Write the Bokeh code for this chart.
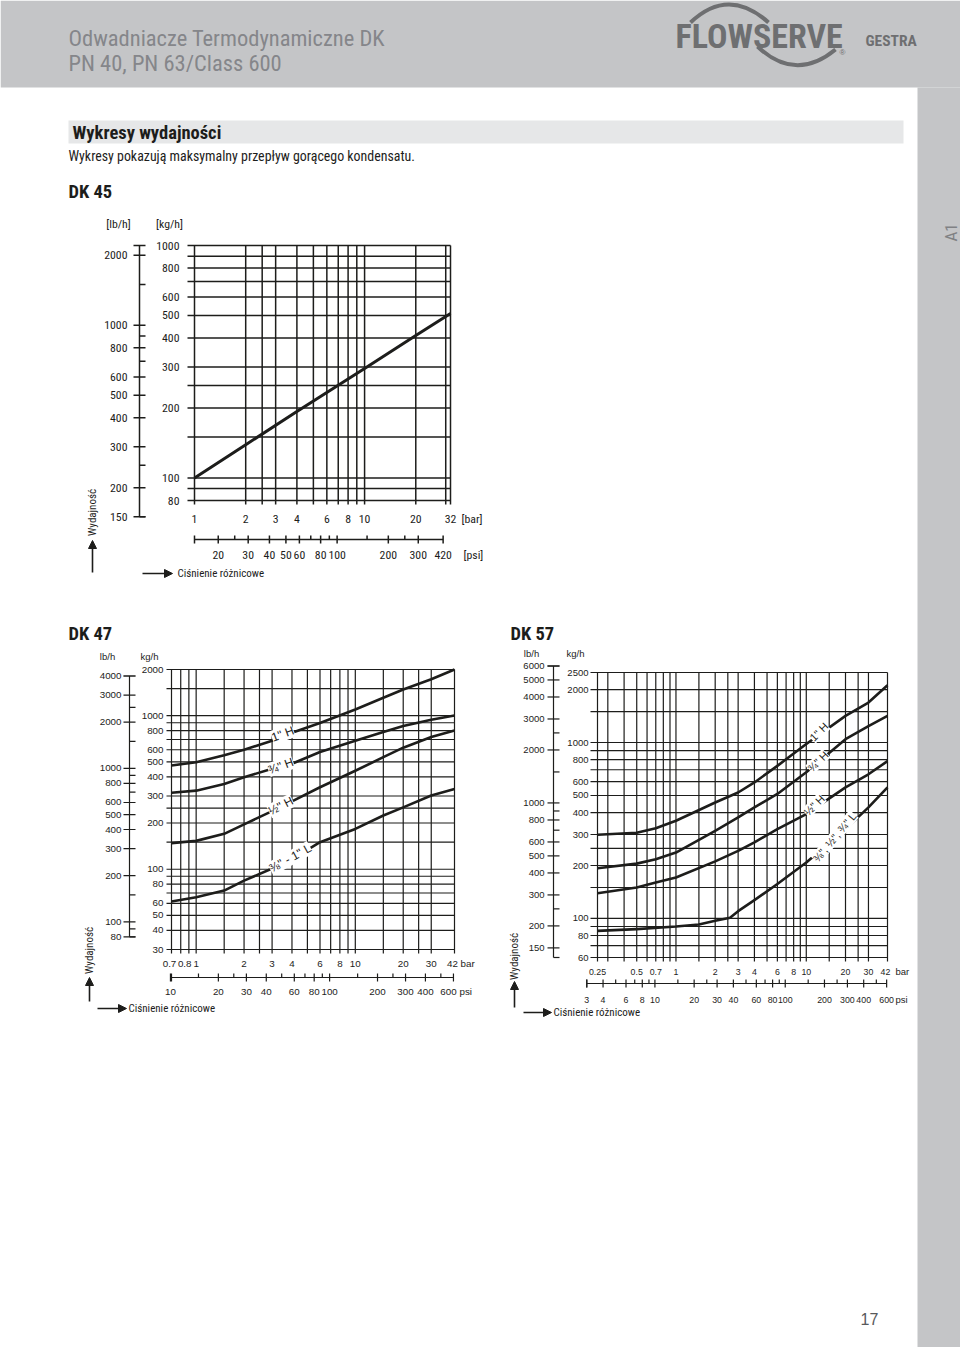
import numpy as np
from bokeh.plotting import figure
from bokeh.models import Range1d, LogScale, Label, Arrow, NormalHead
from bokeh.core.properties import value
from bokeh.embed import file_html
from bokeh.resources import INLINE

# ---------------------------------------------------------------- data
KG_TO_LB = 2.20462
BAR_TO_PSI = 14.5038

# DK 45
dk45_bar = [1, 2, 4, 10, 20, 32]
dk45_kgh = [100, 139, 193, 296, 410, 510]
dk45_kg_labels = [80, 100, 200, 300, 400, 500, 600, 800, 1000]
dk45_kg_grid = [80, 90, 100, 150, 200, 250, 300, 400, 500, 600, 700, 800, 900, 1000]
dk45_bar_labels = [1, 2, 3, 4, 6, 8, 10, 20, 32]
dk45_bar_grid = [1, 2, 2.5, 3, 4, 5, 6, 7, 8, 9, 10, 20, 30, 32]
dk45_lb_labels = [150, 200, 300, 400, 500, 600, 800, 1000, 2000]
dk45_lb_minor = [250, 700, 900, 1500]
dk45_psi_labels = [20, 30, 40, 50, 60, 80, 100, 200, 300, 420]
dk45_psi_minor = [25, 70, 90, 150, 250]

# DK 47
dk47_bar = [0.7, 1, 1.5, 2, 3, 4, 6, 10, 15, 20, 30, 42]
dk47_1h = [474, 498, 553, 600, 687, 775, 897, 1097, 1309, 1483, 1729, 2000]
dk47_34h = [315, 325, 359, 397, 452, 486, 580, 687, 782, 857, 942, 1003]
dk47_12h = [148, 153, 170, 196, 239, 277, 342, 438, 537, 619, 726, 801]
dk47_1l = [61.7, 65.6, 72.6, 84.3, 101, 116, 150, 183, 224, 253, 302, 333]
dk47_kg_labels = [30, 40, 50, 60, 80, 100, 200, 300, 400, 500, 600, 800, 1000, 2000]
dk47_kg_grid = [30, 40, 50, 60, 70, 80, 90, 100, 150, 200, 250, 300, 400, 500,
                600, 700, 800, 900, 1000, 1500, 2000]
dk47_bar_labels = [0.7, 0.8, 1, 2, 3, 4, 6, 8, 10, 20, 30, 42]
dk47_bar_grid = [0.7, 0.8, 0.9, 1, 1.5, 2, 2.5, 3, 4, 5, 6, 7, 8, 9, 10, 15, 20, 25, 30, 42]
dk47_lb_labels = [80, 100, 200, 300, 400, 500, 600, 800, 1000, 2000, 3000, 4000]
dk47_lb_minor = [90, 150, 700, 900, 1500, 2500]
dk47_psi_labels = [10, 20, 30, 40, 60, 80, 100, 200, 300, 400, 600]
dk47_psi_minor = [15, 25, 50, 70, 90, 150, 250, 500]

# DK 57
dk57_bar = [0.25, 0.5, 0.7, 1, 2, 3, 4, 6, 10, 20, 30, 42]
dk57_1h = [299, 307, 326, 359, 456, 520, 593, 737, 980, 1418, 1688, 2117]
dk57_34h = [193, 205, 217, 237, 315, 375, 428, 510, 678, 1045, 1240, 1418]
dk57_12h = [139, 150, 160, 171, 211, 242, 271, 322, 392, 556, 660, 784]
dk57_l_bar = [0.25, 0.5, 1, 1.5, 2, 2.6, 3, 4, 6, 10, 20, 30, 42]
dk57_l = [85, 87, 90, 92.5, 97, 101, 110, 127, 157, 208, 322, 428, 556]
dk57_kg_labels = [60, 80, 100, 200, 300, 400, 500, 600, 800, 1000, 2000, 2500]
dk57_kg_grid = [60, 70, 80, 90, 100, 150, 200, 250, 300, 400, 500, 600, 700, 800,
                900, 1000, 1500, 2000, 2500]
dk57_bar_labels = [0.25, 0.5, 0.7, 1, 2, 3, 4, 6, 8, 10, 20, 30, 42]
dk57_bar_grid = [0.25, 0.3, 0.4, 0.5, 0.6, 0.7, 0.8, 0.9, 1, 1.5, 2, 2.5, 3, 4, 5, 6, 7,
                 8, 9, 10, 15, 20, 25, 30, 42]
dk57_lb_labels = [150, 200, 300, 400, 500, 600, 800, 1000, 2000, 3000, 4000, 5000, 6000]
dk57_lb_minor = [250, 700, 900, 1500, 2500]
dk57_psi_labels = [3, 4, 6, 8, 10, 20, 30, 40, 60, 80, 100, 200, 300, 400, 600]
dk57_psi_minor = [5, 7, 9, 15, 25, 50, 70, 90, 150, 250, 500]

# ---------------------------------------------------------------- page
W, H = 960, 1347
INK = "#1d1d1b"
GREY = "#c4c5c7"
NARROW = "'Roboto Condensed', 'Liberation Sans Narrow', 'Liberation Sans', sans-serif"
SANS = "'Liberation Sans', Arial, sans-serif"

p = figure(width=W, height=H, x_range=Range1d(0, W), y_range=Range1d(H, 0),
           min_border=0, toolbar_location=None, output_backend="svg",
           x_axis_location=None, y_axis_location=None, title=None,
           outline_line_color=None, background_fill_color="white",
           border_fill_color="white")
p.grid.visible = False

XR, XS, YR, YS = {}, {}, {}, {}


def log_x(name, vmin, vmax, pmin, pmax):
    a, b = np.log10(vmin), np.log10(vmax)
    k = (b - a) / (pmax - pmin)
    XR[name] = Range1d(10 ** (a - pmin * k), 10 ** (a + (W - pmin) * k))
    XS[name] = LogScale()


def log_y(name, vmin, vmax, pbot, ptop):
    a, b = np.log10(vmin), np.log10(vmax)
    k = (b - a) / (pbot - ptop)
    YR[name] = Range1d(10 ** (a - (H - pbot) * k), 10 ** (a + pbot * k))
    YS[name] = LogScale()


# chart boxes (pixels)
log_x("x45", 1, 32, 194, 450)
log_x("p45", 1 * BAR_TO_PSI, 32 * BAR_TO_PSI, 194, 450)
log_y("y45", 80, 1000, 500, 245)
log_y("l45", 80 * KG_TO_LB, 1000 * KG_TO_LB, 500, 245)

log_x("x47", 0.7, 42, 171, 454)
log_x("p47", 0.7 * BAR_TO_PSI, 42 * BAR_TO_PSI, 171, 454)
log_y("y47", 30, 2000, 949, 669)
log_y("l47", 30 * KG_TO_LB, 2000 * KG_TO_LB, 949, 669)

log_x("x57", 0.25, 42, 597, 887)
log_x("p57", 0.25 * BAR_TO_PSI, 42 * BAR_TO_PSI, 597, 887)
log_y("y57", 60, 2500, 957, 672)
log_y("l57", 60 * KG_TO_LB, 2500 * KG_TO_LB, 957, 672)

p.extra_x_ranges = XR
p.extra_x_scales = XS
p.extra_y_ranges = YR
p.extra_y_scales = YS


def fmt(v):
    return "%g" % v


def label(x, y, s, font=NARROW, size="13px", align="left", baseline="middle",
          angle=0.0, color=INK, style="normal", **kw):
    p.add_layout(Label(x=x, y=y, text=s, text_font=font, text_font_size=size,
                       text_align=align, text_baseline=baseline, angle=angle,
                       text_color=color, text_font_style=style, **kw))


def hgrid(ky, vals, L, R, ext, lw):
    p.segment(x0=L - ext, x1=R, y0=vals, y1=vals, y_range_name=ky,
              line_color=INK, line_width=lw)


def vgrid(kx, vals, T, B, ext, lw):
    p.segment(x0=vals, x1=vals, y0=T, y1=B + ext, x_range_name=kx,
              line_color=INK, line_width=lw)


def ytext(ky, vals, x, font, size):
    p.text(x=x, y=vals, text=[fmt(v) for v in vals], y_range_name=ky,
           text_align="right", text_baseline="middle", text_color=INK,
           text_font=value(font), text_font_size=value(size))


def xtext(kx, vals, y, font, size, shift=None):
    dx = [0] * len(vals)
    for i, s in (shift or {}).items():
        dx[i] = s
    p.text(x=vals, y=y, text=[fmt(v) for v in vals], x_offset=dx, x_range_name=kx,
           text_align="center", text_baseline="middle", text_color=INK,
           text_font=value(font), text_font_size=value(size))


def vaxis(ky, x, lo, hi, major, minor, lw):
    p.segment(x0=x, x1=x, y0=[lo], y1=[hi], y_range_name=ky, line_color=INK, line_width=lw)
    p.segment(x0=x - 6, x1=x + 6, y0=major + [hi], y1=major + [hi], y_range_name=ky,
              line_color=INK, line_width=lw)
    p.segment(x0=x, x1=x + 6, y0=minor + [lo], y1=minor + [lo], y_range_name=ky,
              line_color=INK, line_width=lw)


def haxis(kx, y, lo, hi, major, minor, lw):
    p.segment(x0=[lo], x1=[hi], y0=y, y1=y, x_range_name=kx, line_color=INK, line_width=lw)
    p.segment(x0=[lo] + major, x1=[lo] + major, y0=y - 4, y1=y + 4, x_range_name=kx,
              line_color=INK, line_width=lw)
    p.segment(x0=minor, x1=minor, y0=y - 4, y1=y, x_range_name=kx,
              line_color=INK, line_width=lw)


def curve(kx, ky, xs, ys, lw=2.6):
    p.line(x=xs, y=ys, x_range_name=kx, y_range_name=ky, line_color=INK,
           line_width=lw, line_join="round")


def arrow(x0, y0, x1, y1):
    p.add_layout(Arrow(end=NormalHead(size=8, fill_color=INK, line_color=INK),
                       x_start=x0, y_start=y0, x_end=x1, y_end=y1,
                       line_color=INK, line_width=1.6))


# ---------------------------------------------------------------- page decoration
p.quad(left=0, right=W, top=0, bottom=87, fill_color=GREY, line_color=None)
p.quad(left=917, right=W, top=87, bottom=H, fill_color=GREY, line_color=None)
p.quad(left=68, right=903, top=120, bottom=143, fill_color="#e6e7e8", line_color=None)

label(68, 37, "Odwadniacze Termodynamiczne DK", size="22.5px", color="#85868a")
label(68, 62, "PN 40, PN 63/Class 600", size="22.5px", color="#85868a")
p.quadratic(x0=[690], y0=[22], cx=[728], cy=[-14], x1=[768], y1=[22],
            line_color="#6e6f71", line_width=4)
p.quadratic(x0=[757], y0=[46], cx=[795], cy=[82], x1=[835], y1=[49],
            line_color="#6e6f71", line_width=4)
label(675, 35, "FLOWSERVE", size="34px", color="#6e6f71", style="bold")
label(842, 52, "®", font=SANS, size="8px", color="#6e6f71", align="center")
label(865, 40, "GESTRA", size="15.5px", color="#6e6f71", style="bold")
label(950, 232, "A1", font=NARROW, size="17px", color="#808184", align="center",
      angle=np.pi / 2)
label(72, 132, "Wykresy wydajności", size="18.5px", style="bold")
label(68, 155, "Wykresy pokazują maksymalny przepływ gorącego kondensatu.", size="13.9px")
label(869, 1318, "17", font=SANS, size="16px", color="#58595b", align="center")

# ---------------------------------------------------------------- DK 45
F45 = "11.8px"
label(68, 191, "DK 45", size="18.5px", style="bold")
label(118, 223, "[lb/h]", size=F45, align="center")
label(169, 223, "[kg/h]", size=F45, align="center")
hgrid("y45", dk45_kg_grid, 194, 450, 7, 1.5)
vgrid("x45", dk45_bar_grid, 245, 500, 4, 1.5)
ytext("y45", dk45_kg_labels, 179, NARROW, F45)
xtext("x45", dk45_bar_labels, 518, NARROW, F45)
label(461, 518, "[bar]", size=F45)
vaxis("l45", 139, 150, 1000 * KG_TO_LB, dk45_lb_labels, dk45_lb_minor, 1.5)
ytext("l45", dk45_lb_labels, 127, NARROW, F45)
haxis("p45", 539, BAR_TO_PSI, 420, dk45_psi_labels, dk45_psi_minor, 1.5)
xtext("p45", dk45_psi_labels, 554, NARROW, F45)
label(463, 554, "[psi]", size=F45)
curve("x45", "y45", dk45_bar, dk45_kgh, 3)
label(92, 512, "Wydajność", size="11px", align="center", angle=np.pi / 2)
arrow(92, 572, 92, 540)
label(177, 573, "Ciśnienie różnicowe", size="11px")
arrow(142, 573, 172, 573)

# ---------------------------------------------------------------- DK 47
F47 = "9.8px"
label(68, 633, "DK 47", size="18.5px", style="bold")
label(107, 656, "lb/h", font=SANS, size="9.5px", align="center")
label(149, 656, "kg/h", font=SANS, size="9.5px", align="center")
hgrid("y47", dk47_kg_grid, 171, 454, 5, 1.2)
vgrid("x47", dk47_bar_grid, 669, 949, 4, 1.2)
ytext("y47", dk47_kg_labels, 163, SANS, F47)
xtext("x47", dk47_bar_labels, 963, SANS, F47, {0: -2, 1: 4, 11: -2})
label(460, 963, "bar", font=SANS, size=F47)
vaxis("l47", 129, 80, 4000, dk47_lb_labels, dk47_lb_minor, 1.2)
ytext("l47", dk47_lb_labels, 121, SANS, F47)
haxis("p47", 977, 0.7 * BAR_TO_PSI, 600, dk47_psi_labels, dk47_psi_minor, 1.2)
xtext("p47", dk47_psi_labels, 991, SANS, F47, {10: -5})
label(459, 991, "psi", font=SANS, size=F47)
curve("x47", "y47", dk47_bar, dk47_1h)
curve("x47", "y47", dk47_bar, dk47_34h)
curve("x47", "y47", dk47_bar, dk47_12h)
curve("x47", "y47", dk47_bar, dk47_1l)
for bx, ky_, txt, ang in [(3.5, 760, '1" H', 20), (3.4, 470, '¾" H', 20),
                          (3.4, 258, '½" H', 27), (3.9, 118, '⅜" - 1" L', 29)]:
    label(bx, ky_, txt, font=SANS, size="12px", align="center", angle=np.radians(ang),
          x_range_name="x47", y_range_name="y47", background_fill_color="white")
label(89, 950, "Wydajność", size="11px", align="center", angle=np.pi / 2)
arrow(89, 1001, 89, 977)
label(128, 1008, "Ciśnienie różnicowe", size="11px")
arrow(97, 1008, 126, 1008)

# ---------------------------------------------------------------- DK 57
F57 = "9.5px"
F57P = "8.8px"
label(510, 633, "DK 57", size="18.5px", style="bold")
label(531, 653, "lb/h", font=SANS, size="9.5px", align="center")
label(575, 653, "kg/h", font=SANS, size="9.5px", align="center")
hgrid("y57", dk57_kg_grid, 597, 887, 7, 1.2)
vgrid("x57", dk57_bar_grid, 672, 957, 4, 1.2)
ytext("y57", dk57_kg_labels, 588, SANS, F57)
xtext("x57", dk57_bar_labels, 971, SANS, F57P, {12: -2})
label(895, 971, "bar", font=SANS, size=F57)
vaxis("l57", 553, 60 * KG_TO_LB, 6000, dk57_lb_labels, dk57_lb_minor, 1.2)
ytext("l57", dk57_lb_labels, 544, SANS, F57)
haxis("p57", 983, 3, 600, dk57_psi_labels, dk57_psi_minor, 1.2)
xtext("p57", dk57_psi_labels, 999, SANS, F57P)
label(895, 999, "psi", font=SANS, size=F57)
curve("x57", "y57", dk57_bar, dk57_1h)
curve("x57", "y57", dk57_bar, dk57_34h)
curve("x57", "y57", dk57_bar, dk57_12h)
curve("x57", "y57", dk57_l_bar, dk57_l)
for bx, ky_, txt, ang in [(12.5, 1150, '1" H', 45), (12.3, 780, '¾" H', 45),
                          (11.5, 440, '½" H', 45), (16.5, 290, '⅜", ½", ¾" L', 50)]:
    label(bx, ky_, txt, font=SANS, size="11px", align="center", angle=np.radians(ang),
          x_range_name="x57", y_range_name="y57", background_fill_color="white")
label(514, 956, "Wydajność", size="11px", align="center", angle=np.pi / 2)
arrow(514, 1007, 514, 981)
label(553, 1012, "Ciśnienie różnicowe", size="11px")
arrow(523, 1012, 551, 1012)

open("out.html", "w").write(file_html(p, INLINE))
